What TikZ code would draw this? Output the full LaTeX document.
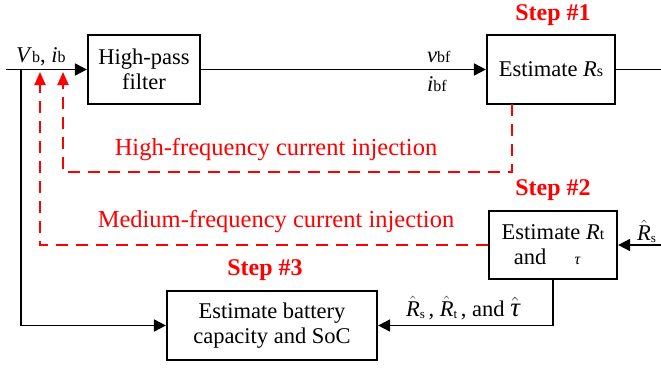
\documentclass[tikz,border=0pt]{standalone}
\usepackage{fontspec}
\setmainfont{Liberation Serif}
\usetikzlibrary{arrows.meta}
\newcommand\subx[1]{{\fontsize{16}{16}\selectfont #1}}
\newcommand\subl[1]{\raisebox{-2pt}{\fontsize{13}{13}\selectfont #1}}
\newcommand\hatit[1]{\ensuremath{\hat{\mbox{\itshape #1}}}}
\begin{document}
\begin{tikzpicture}[x=1pt,y=-1pt,
  every node/.style={font=\fontsize{22.5}{25}\selectfont},
  blk/.style={draw,line width=2.2pt,align=center,inner sep=0pt},
  wire/.style={line width=1.8pt},
  tip/.style={-{Triangle[length=12pt,width=12pt]}},
  reddash/.style={draw=red,line width=1.8pt,dash pattern=on 12pt off 8pt},
  steplbl/.style={red,font=\fontsize{24}{26}\selectfont\bfseries},
  redlbl/.style={red,font=\fontsize{24.5}{26}\selectfont}]
\useasboundingbox (0,0) rectangle (661,367);
% blocks
\node[blk,minimum width=112pt,minimum height=69pt] (hpf) at (144,69.5) {High-pass\\filter};
\node[blk,minimum width=128pt,minimum height=69pt] (rs) at (551,69.5) {Estimate \textit{R}\subx{s}};
\node[blk,minimum width=128pt,minimum height=68pt] (rt) at (553,245) {Estimate \textit{R}\subx{t}\\and \quad\subx{\textit{τ}}\phantom{x}};
\node[blk,minimum width=210pt,minimum height=69pt] (soc) at (272,325.5) {Estimate battery\\capacity and SoC};
% coordinates
\coordinate (in) at (6,69.5);
\coordinate (out) at (661,69.5);
\coordinate (j) at (21,69.5);
\coordinate (rin) at (661,245);
\coordinate (hfs) at (512,104);
\coordinate (hfa) at (63,72);
\coordinate (mfa) at (40,72);
% black wires
\draw[wire,tip] (in) -- (hpf.west);
\draw[wire,tip] (hpf.east) -- (rs.west);
\draw[wire] (rs.east) -- (out);
\draw[wire,tip] (j) |- (soc.west);
\draw[wire,tip] (rin) -- (rt.east);
\draw[wire,tip] (rt.south) |- (soc.east);
% red injections
\draw[reddash,-{Triangle[length=13pt,width=11pt,fill=red]}] (hfs) -- (512,172) -| (hfa);
\draw[reddash,-{Triangle[length=13pt,width=11pt,fill=red]}] (rt.west) -| (mfa);
% labels
\node[anchor=base west,inner sep=0pt] (vib) at (16,62) {\textit{V}\subx{b}, \textit{i}\subx{b}};
\node[anchor=base west,inner sep=0pt] (vbf) at (427,62) {\textit{v}\subx{bf}};
\node[anchor=base west,inner sep=0pt] (ibf) at (427,91) {\textit{i}\subx{bf}};
\node[steplbl] (s1) at (553,15) {Step \#1};
\node[steplbl] (s2) at (553,190) {Step \#2};
\node[steplbl] (s3) at (265,270) {Step \#3};
\node[redlbl] (hfl) at (276,150) {High-frequency current injection};
\node[redlbl] (mfl) at (276,222) {Medium-frequency current injection};
\node[anchor=base west,inner sep=0pt] (rsh) at (637,240) {\hatit{R}\subl{s}};
\node[anchor=base,inner sep=0pt] (est) at (463,316) {\hatit{R}\subl{s}\,, \hatit{R}\subl{t}\,, and {\fontsize{27}{27}\selectfont\hatit{τ}}};
\end{tikzpicture}
\end{document}
